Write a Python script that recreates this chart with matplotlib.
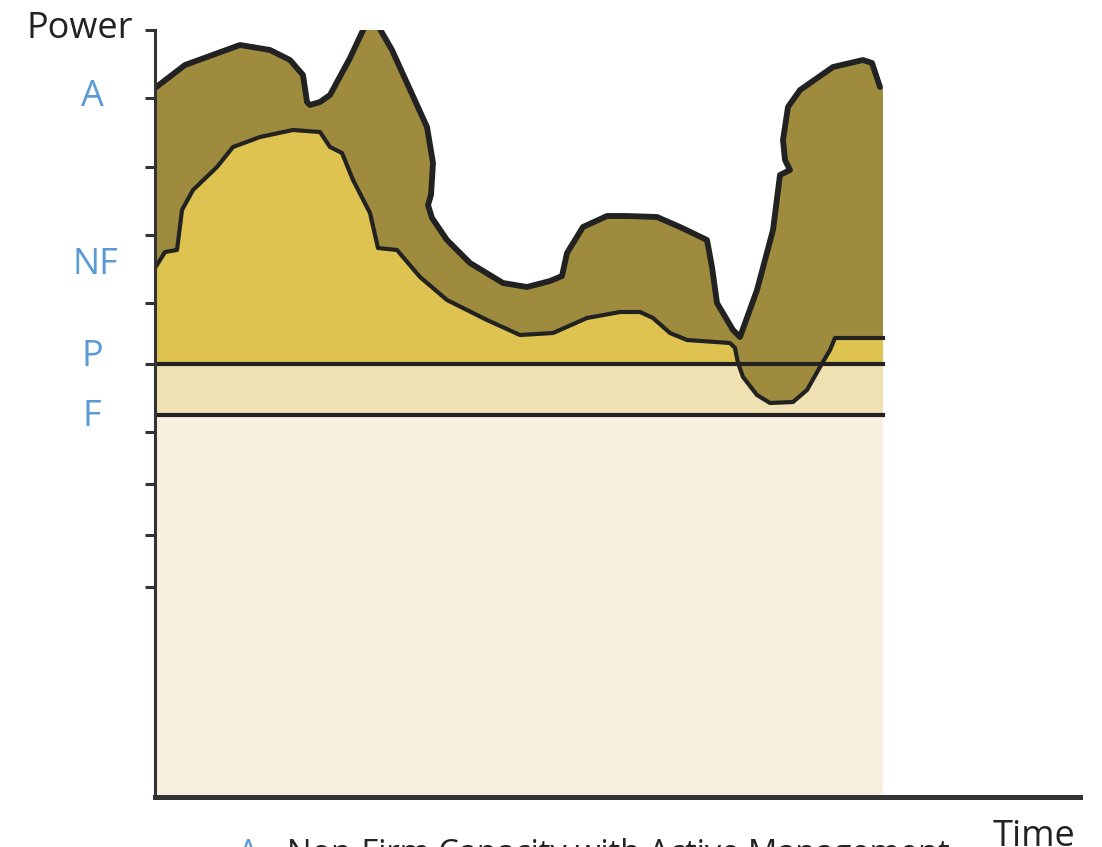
import numpy as np
import matplotlib
matplotlib.use("Agg")
import matplotlib.pyplot as plt

plt.rcParams['font.family'] = ['Open Sans', 'DejaVu Sans']

# upper envelope (available power with active management)
upper_t = [0, 30, 85, 115, 135, 148, 152, 155, 165, 175, 195, 210, 216, 222, 237,
           252, 272, 278, 276, 273, 277, 292, 315, 348, 372, 395, 407, 412,
           428, 452, 472, 502, 525, 552, 557, 562, 578, 585, 602, 618, 625,
           635, 630, 628, 633, 645, 678, 708, 717, 725, 728]
upper_p = [709, 732, 752, 747, 737, 722, 695, 692, 695, 702, 739, 771, 776, 773, 747,
           714, 670, 634, 602, 592, 579, 557, 534, 514, 510, 516, 521, 544,
           570, 581, 581, 580, 570, 557, 530, 494, 467, 460, 507, 567, 622,
           627, 637, 657, 690, 707, 730, 737, 734, 710, 709]

# non-firm capacity curve
nf_t = [0, 10, 22, 27, 38, 62, 78, 105, 138, 165, 175, 187, 198, 215, 223,
        242, 265, 292, 332, 365, 398, 432, 465, 485, 498, 515, 532, 575,
        580, 583, 588, 602, 615, 638, 652, 665, 675, 680, 728]
nf_p = [529, 545, 547, 587, 607, 630, 650, 660, 667, 665, 650, 644, 617, 584,
        549, 547, 520, 497, 477, 462, 464, 479, 485, 485, 479, 464, 457, 454,
        449, 434, 420, 402, 394, 395, 407, 430, 447, 459, 459]

p_level = 433
f_level = 382
t_end = 728
y_ticks = [767, 699, 630, 562, 494, 433, 365, 313, 262, 210]

W, H = 1102, 847
fig = plt.figure(figsize=(W / 100, H / 100), dpi=100)
ax = fig.add_axes([155 / W, (H - 797) / H, (1080 - 155) / W, (797 - 30) / H])
ax.set_xlim(0, 925)
ax.set_ylim(0, 767)

ax.fill_between([0, t_end], 0, f_level, color='#f8f0df', lw=0)
ax.fill_between([0, t_end], f_level, p_level, color='#f0e1b3', lw=0)
ax.fill_between(nf_t, p_level, nf_p, where=np.array(nf_p) >= p_level,
                interpolate=True, color='#dec350', lw=0)
ax.fill(upper_t + nf_t[::-1], upper_p + nf_p[::-1], color='#9e8b3e', lw=0)

ax.plot(upper_t[:-1], upper_p[:-1], color='#222222', lw=4.2,
        solid_joinstyle='round', solid_capstyle='round')
ax.plot(nf_t, nf_p, color='#222222', lw=3.0, solid_joinstyle='round')
ax.plot([0, t_end], [p_level, p_level], color='#222222', lw=3.0)
ax.plot([0, t_end], [f_level, f_level], color='#222222', lw=3.0)

for s in ['top', 'right']:
    ax.spines[s].set_visible(False)
ax.spines['left'].set_linewidth(2.2)
ax.spines['left'].set_color('#333333')
ax.spines['bottom'].set_linewidth(3.6)
ax.spines['bottom'].set_color('#333333')
ax.spines['bottom'].set_capstyle('projecting')
ax.set_xticks([])
ax.set_yticks(y_ticks)
ax.set_yticklabels([])
ax.tick_params(axis='y', length=7, width=2.2, color='#333333', direction='out')

blue = '#5b9bd5'
fig.text(27 / W, 1 - 38 / H, 'Power', fontsize=26, color='#222222', va='baseline')
fig.text(92 / W, 1 - 97 / H, 'A', fontsize=26, color=blue, ha='center', va='center')
fig.text(95 / W, 1 - 265 / H, 'NF', fontsize=26, color=blue, ha='center', va='center')
fig.text(92 / W, 1 - 357 / H, 'P', fontsize=26, color=blue, ha='center', va='center')
fig.text(92 / W, 1 - 417 / H, 'F', fontsize=26, color=blue, ha='center', va='center')
fig.text(993 / W, 1 - 846 / H, 'Time', fontsize=26, color='#222222', va='baseline')
fig.text(238 / W, 1 - 863 / H, 'A', fontsize=23.5, color=blue, va='baseline')
fig.text(287 / W, 1 - 863 / H, 'Non-Firm Capacity with Active Management',
         fontsize=23.5, color='#222222', va='baseline')

fig.savefig('out.png', dpi=100)
